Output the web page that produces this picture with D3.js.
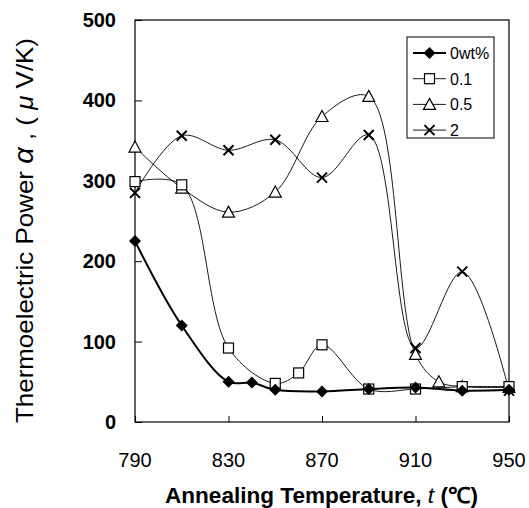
<!DOCTYPE html>
<html>
<head>
<meta charset="utf-8">
<script src="https://cdn.jsdelivr.net/npm/d3@7"></script>
<style>
  body { margin: 0; background: #fff; }
  text { font-family: "Liberation Sans", Arial, sans-serif; fill: #000; }
</style>
</head>
<body>
<svg id="chart" width="529" height="508"></svg>
<script>
// annealing temperatures (°C) and thermoelectric power (uV/K) for each addition
const temps0 = [790, 810, 830, 840, 850, 870, 890, 910, 930, 950];
const vals0 = [225, 120, 50, 49, 40, 38, 41, 43, 39, 40];

const temps01 = [790, 810, 830, 850, 860, 870, 890, 910, 930, 950];
const vals01 = [299, 295, 92, 48, 61, 96, 41, 41, 44, 44];

const temps05 = [790, 810, 830, 850, 870, 890, 910, 920, 930, 950];
const vals05 = [342, 291, 261, 286, 380, 405, 84, 50, 44, 43];

const temps2 = [790, 810, 830, 850, 870, 890, 910, 930, 950];
const vals2 = [285, 356, 338, 351, 304, 357, 92, 187, 39];

const seriesNames = ["0wt%", "0.1", "0.5", "2"];
const xTicks = [790, 830, 870, 910, 950];
const yTicks = [0, 100, 200, 300, 400, 500];

const svg = d3.select("#chart");

const x = d3.scaleLinear().domain([790, 950]).range([135, 509]);
const y = d3.scaleLinear().domain([0, 500]).range([422, 20]);

const series = [
  { name: seriesNames[0], t: temps0, v: vals0, marker: "diamond", width: 2 },
  { name: seriesNames[1], t: temps01, v: vals01, marker: "square", width: 0.9 },
  { name: seriesNames[2], t: temps05, v: vals05, marker: "triangle", width: 0.9 },
  { name: seriesNames[3], t: temps2, v: vals2, marker: "cross", width: 0.9 }
];

// frame
svg.append("rect")
  .attr("x", x(790)).attr("y", y(500))
  .attr("width", x(950) - x(790)).attr("height", y(0) - y(500))
  .attr("fill", "none").attr("stroke", "#000").attr("stroke-width", 1.2);

// inward ticks
const xAxis = d3.axisBottom(x).tickValues(xTicks).tickSize(-6).tickFormat("");
svg.append("g").attr("transform", `translate(0,${y(0)})`).call(xAxis)
  .call(g => g.select(".domain").remove())
  .selectAll("line").attr("stroke", "#000");

const yAxis = d3.axisLeft(y).tickValues(yTicks).tickSize(-7).tickFormat("");
svg.append("g").attr("transform", `translate(${x(790)},0)`).call(yAxis)
  .call(g => g.select(".domain").remove())
  .selectAll("line").attr("stroke", "#000");

// tick labels
svg.selectAll(".xl").data(xTicks).enter().append("text")
  .attr("x", d => x(d)).attr("y", 467)
  .attr("text-anchor", "middle")
  .style("font-size", "20px")
  .text(d => d);

svg.selectAll(".yl").data(yTicks).enter().append("text")
  .attr("x", 116).attr("y", d => y(d) + 7)
  .attr("text-anchor", "end")
  .style("font-size", "20px").style("font-weight", "bold")
  .text(d => d);

// axis titles
svg.append("text")
  .attr("x", 165).attr("y", 503)
  .attr("textLength", 313).attr("lengthAdjust", "spacingAndGlyphs")
  .style("font-size", "22px").style("font-weight", "bold")
  .html('Annealing Temperature, <tspan font-style="italic" font-weight="normal">t</tspan> (℃)');

svg.append("text")
  .attr("transform", "translate(33,423) rotate(-90)")
  .attr("textLength", 385).attr("lengthAdjust", "spacingAndGlyphs")
  .style("font-size", "24px")
  .html('Thermoelectric Power <tspan font-style="italic" font-size="27px">α</tspan> , ( <tspan font-style="italic">μ</tspan> V/K)');

// markers
function drawMarker(g, type, cx, cy) {
  if (type === "diamond") {
    g.append("path").attr("d", `M${cx},${cy - 6}L${cx + 6},${cy}L${cx},${cy + 6}L${cx - 6},${cy}Z`)
      .attr("fill", "#000");
  } else if (type === "square") {
    g.append("rect").attr("x", cx - 5).attr("y", cy - 5).attr("width", 10).attr("height", 10)
      .attr("fill", "#fff").attr("stroke", "#000").attr("stroke-width", 1.2);
  } else if (type === "triangle") {
    g.append("path").attr("d", `M${cx},${cy - 6}L${cx + 6},${cy + 5}L${cx - 6},${cy + 5}Z`)
      .attr("fill", "#fff").attr("stroke", "#000").attr("stroke-width", 1.2);
  } else {
    g.append("path").attr("d", `M${cx - 5},${cy - 5}L${cx + 5},${cy + 5}M${cx - 5},${cy + 5}L${cx + 5},${cy - 5}`)
      .attr("fill", "none").attr("stroke", "#000").attr("stroke-width", 2);
  }
}

const line = d3.line()
  .x(d => x(d[0])).y(d => y(d[1]))
  .curve(d3.curveCatmullRom.alpha(0.5));

// draw back to front so the thick series sits on top
series.slice().reverse().forEach(s => {
  const pts = s.t.map((t, i) => [t, s.v[i]]);
  const g = svg.append("g");
  g.append("path").datum(pts).attr("d", line)
    .attr("fill", "none").attr("stroke", "#000").attr("stroke-width", s.width);
  pts.forEach(p => drawMarker(g, s.marker, x(p[0]), y(p[1])));
});

// legend
const lg = svg.append("g");
lg.append("rect").attr("x", 407).attr("y", 37).attr("width", 87).attr("height", 101)
  .attr("fill", "#fff").attr("stroke", "#000").attr("stroke-width", 1);
series.forEach((s, i) => {
  const ly = 53 + i * 25.7;
  lg.append("line").attr("x1", 413).attr("x2", 446).attr("y1", ly).attr("y2", ly)
    .attr("stroke", "#000").attr("stroke-width", s.width);
  drawMarker(lg, s.marker, 429.5, ly);
  lg.append("text").attr("x", 450).attr("y", ly + 6)
    .style("font-size", "16px")
    .text(s.name);
});
</script>
</body>
</html>
